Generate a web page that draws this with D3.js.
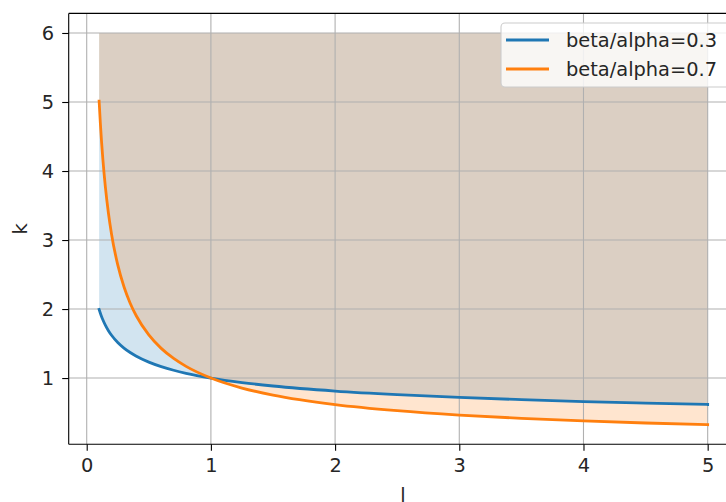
<!DOCTYPE html>
<html>
<head>
<meta charset="utf-8">
<script src="https://cdn.jsdelivr.net/npm/d3@7"></script>
<style>
  body { margin: 0; background: #fff; }
  text { font-family: "DejaVu Sans", sans-serif; fill: #262626; }
</style>
</head>
<body>
<script>
var lValues = [0.1, 0.11, 0.12, 0.13, 0.15, 0.175, 0.2, 0.25, 0.3, 0.35, 0.4, 0.5, 0.6, 0.7, 0.8, 1, 1.25, 1.5, 2, 2.5, 3, 3.5, 4, 4.5, 5];
var kLow = [1.995, 1.939, 1.889, 1.844, 1.767, 1.687, 1.621, 1.516, 1.435, 1.370, 1.316, 1.231, 1.166, 1.113, 1.069, 1, 0.935, 0.885, 0.812, 0.760, 0.719, 0.687, 0.660, 0.637, 0.617];
var kHigh = [5.012, 4.689, 4.411, 4.171, 3.773, 3.388, 3.085, 2.639, 2.323, 2.085, 1.899, 1.625, 1.430, 1.284, 1.169, 1, 0.855, 0.753, 0.616, 0.527, 0.463, 0.416, 0.379, 0.349, 0.324];
var seriesNames = ["beta/alpha=0.3", "beta/alpha=0.7"];
var seriesColors = ["#1f77b4", "#ff7f0e"];
var kTop = 6;
var xTicks = [0, 1, 2, 3, 4, 5];
var yTicks = [1, 2, 3, 4, 5, 6];

(function() {

var width = 726, height = 502;
var plotLeft = 68.7, plotRight = 738.1, plotTop = 13.4, plotBottom = 444.3;
var fontSize = 19.4;

var svg = d3.select("body").append("svg")
    .attr("width", width)
    .attr("height", height);

var x = d3.scaleLinear().domain([-0.145, 5.245]).range([plotLeft, plotRight]);
var y = d3.scaleLinear().domain([0.0402, 6.2838]).range([plotBottom, plotTop]);

svg.append("defs").append("clipPath").attr("id", "clip")
    .append("rect")
    .attr("x", plotLeft).attr("y", plotTop)
    .attr("width", plotRight - plotLeft).attr("height", plotBottom - plotTop);

var series = [kLow, kHigh].map(function(ks, i) {
    return {
        name: seriesNames[i],
        color: seriesColors[i],
        points: lValues.map(function(l, j) { return { l: l, k: ks[j] }; })
    };
});

var plot = svg.append("g").attr("clip-path", "url(#clip)");

// fills between each curve and k = 6
var area = d3.area()
    .curve(d3.curveMonotoneX)
    .x(function(d) { return x(d.l); })
    .y0(y(kTop))
    .y1(function(d) { return y(d.k); });

plot.selectAll(".fill")
    .data(series)
    .enter().append("path")
    .attr("class", "fill")
    .attr("d", function(d) { return area(d.points); })
    .attr("fill", function(d) { return d.color; })
    .attr("fill-opacity", 0.2);

// grid sits above fills, below lines
var grid = plot.append("g");
grid.selectAll(".gx").data(xTicks).enter().append("line")
    .attr("x1", function(d) { return x(d); }).attr("x2", function(d) { return x(d); })
    .attr("y1", plotTop).attr("y2", plotBottom)
    .attr("stroke", "#b0b0b0").attr("stroke-width", 1.1);
grid.selectAll(".gy").data(yTicks).enter().append("line")
    .attr("y1", function(d) { return y(d); }).attr("y2", function(d) { return y(d); })
    .attr("x1", plotLeft).attr("x2", plotRight)
    .attr("stroke", "#b0b0b0").attr("stroke-width", 1.1);

var line = d3.line()
    .curve(d3.curveMonotoneX)
    .x(function(d) { return x(d.l); })
    .y(function(d) { return y(d.k); });

plot.selectAll(".curve")
    .data(series)
    .enter().append("path")
    .attr("class", "curve")
    .attr("d", function(d) { return line(d.points); })
    .attr("fill", "none")
    .attr("stroke", function(d) { return d.color; })
    .attr("stroke-width", 2.8)
    .attr("stroke-linecap", "square");

// axes
var xAxis = svg.append("g")
    .attr("transform", "translate(0," + plotBottom + ")")
    .call(d3.axisBottom(x).tickValues(xTicks).tickFormat(d3.format("d")).tickSizeOuter(0).tickSize(6.5).tickPadding(7));
var yAxis = svg.append("g")
    .attr("transform", "translate(" + plotLeft + ",0)")
    .call(d3.axisLeft(y).tickValues(yTicks).tickFormat(d3.format("d")).tickSizeOuter(0).tickSize(6.5).tickPadding(8));

[xAxis, yAxis].forEach(function(a) {
    a.select(".domain").remove();
    a.selectAll("line").attr("stroke", "#000").attr("stroke-width", 1.1);
    a.selectAll("text").style("font-size", fontSize + "px").attr("fill", "#262626")
        .style("font-family", "DejaVu Sans, sans-serif");
});

// spines
svg.append("line").attr("x1", plotLeft).attr("x2", plotLeft).attr("y1", plotTop).attr("y2", plotBottom)
    .attr("stroke", "#000").attr("stroke-width", 1.1);
svg.append("line").attr("x1", plotLeft).attr("x2", plotRight).attr("y1", plotBottom).attr("y2", plotBottom)
    .attr("stroke", "#000").attr("stroke-width", 1.1);
svg.append("line").attr("x1", plotLeft).attr("x2", plotRight).attr("y1", plotTop).attr("y2", plotTop)
    .attr("stroke", "#000").attr("stroke-width", 1.1);

// axis labels (the l sits partly below the page, as in the original)
svg.append("text")
    .attr("x", 403)
    .attr("y", 502)
    .attr("text-anchor", "middle")
    .style("font-size", fontSize + "px")
    .text("l");
svg.append("text")
    .attr("transform", "translate(27," + ((plotTop + plotBottom) / 2) + ") rotate(-90)")
    .attr("text-anchor", "middle")
    .style("font-size", fontSize + "px")
    .text("k");

// legend
var legend = svg.append("g");
legend.append("rect")
    .attr("x", 501).attr("y", 23)
    .attr("width", 232).attr("height", 64)
    .attr("rx", 4)
    .attr("fill", "#fff").attr("fill-opacity", 0.8)
    .attr("stroke", "#cccccc").attr("stroke-width", 1.1);

var item = legend.selectAll(".item")
    .data(series)
    .enter().append("g")
    .attr("transform", function(d, i) { return "translate(0," + (40 + i * 29) + ")"; });
item.append("line")
    .attr("x1", 506).attr("x2", 549)
    .attr("stroke", function(d) { return d.color; })
    .attr("stroke-width", 2.8);
item.append("text")
    .attr("x", 566)
    .attr("dy", "0.35em")
    .style("font-size", fontSize + "px")
    .text(function(d) { return d.name; });

})();
</script>
</body>
</html>
